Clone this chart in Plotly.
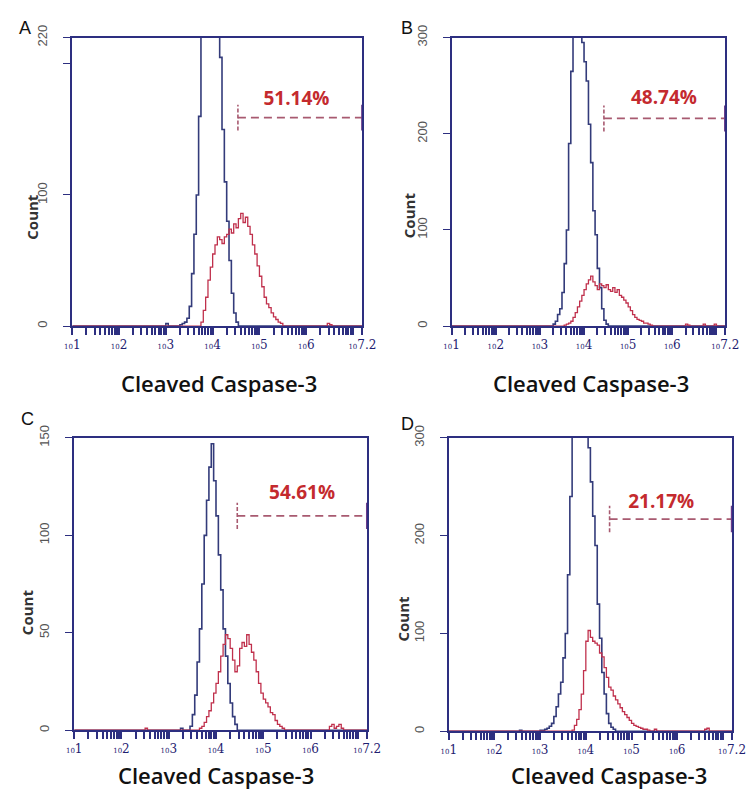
import numpy as np
import plotly.graph_objects as go

# ---------------- data (x in log10 units of fluorescence, y = count) ----------------
panels = ["A", "B", "C", "D"]
y_max = [220, 300, 150, 300]
y_tickvals = [[0, 100, 200, 220], [0, 100, 200, 300], [0, 50, 100, 150], [0, 100, 200, 300]]
y_ticktext = [["0", "100", "", "220"], ["0", "100", "200", "300"], ["0", "50", "100", "150"], ["0", "100", "200", "300"]]

x_tick_exp = ["1", "2", "3", "4", "5", "6", "7.2"]

gate_pct = ["51.14%", "48.74%", "54.61%", "21.17%"]
gate_start = [4.54, 4.45, 4.45, 4.52]
gate_end = [7.2, 7.2, 7.2, 7.2]
gate_y = [159, 216, 110, 217]
label_x = [5.79, 5.81, 5.82, 5.65]
label_y = [172, 236, 121, 233]

# Panel A
blue_x_A = [1.0, 2.95, 3.0, 3.05, 3.3, 3.35, 3.4, 3.45, 3.5, 3.55, 3.6, 3.65, 3.7, 3.75, 3.8, 3.85, 3.9,
            3.95, 4.0, 4.05, 4.1, 4.15, 4.2, 4.25, 4.3, 4.35, 4.4, 4.45, 4.5, 4.55, 7.2]
blue_y_A = [0, 0, 2, 0, 1, 2, 3, 6, 15, 40, 70, 100, 160, 230, 290, 330, 350,
            345, 320, 280, 240, 205, 150, 110, 80, 50, 25, 10, 3, 0, 0]
red_x_A = [1.0, 3.7, 3.75, 3.8, 3.85, 3.9, 3.95, 4.0, 4.05, 4.1, 4.15, 4.2, 4.25, 4.3, 4.35, 4.4, 4.45,
           4.5, 4.55, 4.6, 4.65, 4.7, 4.75, 4.8, 4.85, 4.9, 4.95, 5.0, 5.05, 5.1, 5.15, 5.2, 5.25,
           5.3, 5.35, 5.4, 5.45, 5.5, 6.4, 6.45, 6.5, 6.55, 7.2]
red_y_A = [0, 0, 3, 12, 22, 35, 45, 55, 62, 68, 66, 63, 68, 70, 74, 71, 78,
           75, 82, 86, 79, 83, 76, 70, 62, 55, 46, 38, 30, 22, 17, 14, 10,
           7, 5, 3, 2, 0, 0, 2, 1, 0, 0]

# Panel B
blue_x_B = [1.0, 3.2, 3.3, 3.35, 3.4, 3.45, 3.5, 3.55, 3.6, 3.65, 3.7, 3.75, 3.8, 3.85, 3.9, 3.95,
            4.0, 4.05, 4.1, 4.15, 4.2, 4.25, 4.3, 4.35, 4.4, 4.45, 4.5, 4.55, 7.2]
blue_y_B = [0, 0, 2, 5, 12, 18, 35, 65, 100, 190, 265, 330, 400, 430, 380, 295,
            275, 255, 210, 170, 120, 95, 60, 40, 18, 6, 2, 0, 0]
red_x_B = [1.0, 3.5, 3.55, 3.6, 3.65, 3.7, 3.75, 3.8, 3.85, 3.9, 3.95, 4.0, 4.05, 4.1, 4.15, 4.2,
           4.25, 4.3, 4.35, 4.4, 4.45, 4.5, 4.55, 4.6, 4.65, 4.7, 4.75, 4.8, 4.85, 4.9, 4.95, 5.0,
           5.05, 5.1, 5.15, 5.2, 5.25, 5.3, 5.35, 5.4, 5.45, 5.5, 5.55, 6.3, 6.35, 6.4, 6.7, 6.75,
           6.95, 7.0, 7.2]
red_y_B = [0, 0, 1, 2, 3, 5, 9, 14, 20, 26, 32, 38, 44, 48, 52, 46,
           42, 38, 44, 42, 40, 43, 38, 36, 40, 35, 38, 32, 30, 27, 24, 20,
           16, 12, 9, 7, 6, 5, 3, 3, 2, 1, 0, 2, 1, 0, 2, 0,
           2, 0, 0]

# Panel C
blue_x_C = [1.0, 3.2, 3.25, 3.3, 3.45, 3.5, 3.55, 3.6, 3.65, 3.7, 3.75, 3.8, 3.85, 3.9, 3.95, 4.0,
            4.05, 4.1, 4.15, 4.2, 4.25, 4.3, 4.35, 4.4, 4.45, 7.2]
blue_y_C = [0, 0, 1, 0, 2, 8, 18, 35, 52, 75, 100, 118, 135, 147, 128, 110,
            90, 72, 52, 38, 24, 14, 7, 3, 0, 0]
red_x_C = [1.0, 2.45, 2.5, 2.55, 3.6, 3.65, 3.7, 3.75, 3.8, 3.85, 3.9, 3.95, 4.0, 4.05, 4.1, 4.15,
           4.2, 4.25, 4.3, 4.35, 4.4, 4.45, 4.5, 4.55, 4.6, 4.65, 4.7, 4.75, 4.8, 4.85, 4.9, 4.95,
           5.0, 5.05, 5.1, 5.15, 5.2, 5.25, 5.3, 5.35, 5.4, 5.45, 6.35, 6.4, 6.45, 6.5, 6.55, 6.6,
           6.65, 6.7, 7.2]
red_y_C = [0, 0, 1, 0, 0, 1, 2, 4, 7, 10, 14, 19, 24, 30, 38, 44,
           49, 47, 42, 36, 30, 33, 42, 45, 43, 49, 44, 40, 36, 30, 24, 19,
           16, 14, 12, 9, 8, 5, 3, 2, 1, 0, 0, 2, 3, 1, 2, 3,
           1, 0, 0]

# Panel D
blue_x_D = [1.0, 2.5, 2.55, 2.6, 3.0, 3.1, 3.15, 3.2, 3.25, 3.3, 3.35, 3.4, 3.45, 3.5, 3.55, 3.6,
            3.65, 3.7, 3.75, 3.8, 3.85, 3.9, 3.95, 4.0, 4.05, 4.1, 4.15, 4.2, 4.25, 4.3, 4.35, 4.4,
            4.45, 4.5, 4.55, 4.6, 4.65, 7.2]
blue_y_D = [0, 0, 1, 0, 1, 2, 3, 5, 8, 15, 25, 38, 50, 75, 100, 160,
            240, 310, 340, 380, 410, 400, 360, 320, 290, 255, 220, 190, 130, 95, 60, 38,
            18, 8, 4, 2, 0, 0]
red_x_D = [1.0, 3.65, 3.7, 3.75, 3.8, 3.85, 3.9, 3.95, 4.0, 4.05, 4.1, 4.15, 4.2, 4.25, 4.3, 4.35,
           4.4, 4.45, 4.5, 4.55, 4.6, 4.65, 4.7, 4.75, 4.8, 4.85, 4.9, 4.95, 5.0, 5.05, 5.1, 5.15,
           5.2, 5.25, 5.3, 5.35, 5.4, 5.5, 5.55, 6.6, 6.65, 6.7, 7.2]
red_y_D = [0, 0, 1, 6, 12, 22, 38, 62, 92, 103, 96, 92, 90, 88, 80, 76,
           65, 55, 45, 42, 36, 32, 28, 24, 20, 17, 14, 11, 8, 6, 5, 4,
           3, 2, 2, 1, 0, 2, 0, 2, 3, 0, 0]

blue_x = [blue_x_A, blue_x_B, blue_x_C, blue_x_D]
blue_y = [blue_y_A, blue_y_B, blue_y_C, blue_y_D]
red_x = [red_x_A, red_x_B, red_x_C, red_x_D]
red_y = [red_y_A, red_y_B, red_y_C, red_y_D]

# ---------------- layout ----------------
# page body has an 8px margin; figure is sized so the page fits the 756x803 window
OFF = 8
W, H = 756 - 2 * OFF, 803 - 2 * OFF
# pixel boxes (window coordinates) of each plot area: left, right, top, bottom
boxes = [(66, 365, 25, 319), (457, 739, 25, 319), (68, 370, 433, 731), (454, 746, 433, 732)]
letter_pos = [(17, 15), (411, 15), (20, 414), (411, 419)]
count_pos = [(25, 207), (413, 206), (19, 611), (407, 617)]
title_pos = [(217, 377, "middle"), (601, 377, "middle"), (214, 794, "bottom"), (619, 794, "bottom")]


def px(x):
    return (x - OFF) / W


def py(y):
    return 1 - (y - OFF) / H


NAVY = "#2d2f80"
BLUE_LINE = "#333b7a"
RED_LINE = "#c0304c"
GATE = "#a85a70"
RED_TXT = "#c42a2e"

fig = go.Figure()

# x ticks: decades + minor positions + right end
tickvals_x, ticktext_x = [], []
for k in range(1, 7):
    for m in range(1, 10):
        tickvals_x.append(m * 10 ** k)
        ticktext_x.append(f"<span style='font-size:7px'>10</span>{x_tick_exp[k - 1]}" if m == 1 else "")
tickvals_x += [1e7, 10 ** 7.2]
ticktext_x += ["", f"<span style='font-size:7px'>10</span>{x_tick_exp[6]}"]

annotations = []
for i, p in enumerate(panels):
    xa = "x" if i == 0 else f"x{i+1}"
    ya = "y" if i == 0 else f"y{i+1}"
    x0, x1, t, b = boxes[i]
    lay_x = "xaxis" if i == 0 else f"xaxis{i+1}"
    lay_y = "yaxis" if i == 0 else f"yaxis{i+1}"

    fig.add_trace(go.Scatter(x=10 ** np.array(blue_x[i]), y=blue_y[i], mode="lines",
                             line=dict(color=BLUE_LINE, width=1.6, shape="hv"),
                             xaxis=xa, yaxis=ya, showlegend=False, hoverinfo="skip"))
    fig.add_trace(go.Scatter(x=10 ** np.array(red_x[i]), y=red_y[i], mode="lines",
                             line=dict(color=RED_LINE, width=1.3, shape="hv"),
                             xaxis=xa, yaxis=ya, showlegend=False, hoverinfo="skip"))
    # gate
    gs, ge, gy = gate_start[i], gate_end[i], gate_y[i]
    dy = 0.045 * y_max[i]
    fig.add_trace(go.Scatter(x=10 ** np.array([gs, ge]), y=[gy, gy], mode="lines",
                             line=dict(color=GATE, width=1.7, dash="8px,5px"),
                             xaxis=xa, yaxis=ya, showlegend=False, hoverinfo="skip"))
    fig.add_trace(go.Scatter(x=10 ** np.array([gs, gs]), y=[gy - dy, gy + dy], mode="lines",
                             line=dict(color=GATE, width=1.6, dash="4px,2px"),
                             xaxis=xa, yaxis=ya, showlegend=False, hoverinfo="skip"))
    fig.add_trace(go.Scatter(x=10 ** np.array([ge, ge]), y=[gy - dy, gy + dy], mode="lines",
                             line=dict(color="#6a3a8a", width=2.5),
                             xaxis=xa, yaxis=ya, showlegend=False, hoverinfo="skip"))
    fig.add_trace(go.Scatter(x=[10 ** label_x[i]], y=[label_y[i]], mode="text",
                             text=[gate_pct[i]],
                             textfont=dict(family="Open Sans", size=19, color=RED_TXT, weight="bold"),
                             xaxis=xa, yaxis=ya, showlegend=False, hoverinfo="skip"))

    fig.update_layout(**{
        lay_x: dict(type="log", range=[1, 7.2], domain=[px(x0), px(x1)], anchor=ya,
                    showgrid=False, zeroline=False, showline=True, mirror=True,
                    linecolor=NAVY, linewidth=1.6, ticks="outside", ticklen=7,
                    tickcolor=NAVY, tickwidth=1.5, tickvals=tickvals_x, ticktext=ticktext_x,
                    tickangle=0,
                    tickfont=dict(family="DejaVu Serif", size=12, color="#1e2070")),
        lay_y: dict(range=[0, y_max[i]], domain=[py(b), py(t)], anchor=xa,
                    showgrid=False, zeroline=False, showline=True, mirror=True,
                    linecolor=NAVY, linewidth=1.6, ticks="outside", ticklen=7,
                    tickcolor=NAVY, tickwidth=1.4, tickvals=y_tickvals[i], ticktext=y_ticktext[i],
                    tickangle=-90, ticklabelstandoff=11,
                    tickfont=dict(family="Liberation Sans Narrow, Liberation Sans", size=13, color="#555555")),
    })

    lx, ly = letter_pos[i]
    annotations.append(dict(text=p, x=px(lx), y=py(ly), xref="paper", yref="paper",
                            showarrow=False, xanchor="center", yanchor="middle",
                            font=dict(family="Liberation Sans", size=18, color="#111111")))
    cx, cy = count_pos[i]
    annotations.append(dict(text="Count", x=px(cx), y=py(cy), xref="paper", yref="paper",
                            showarrow=False, textangle=-90, xanchor="center", yanchor="middle",
                            font=dict(family="Open Sans", size=15, color="#333333", weight="bold")))
    tx, ty, tanchor = title_pos[i]
    annotations.append(dict(text="Cleaved Caspase-3", x=px(tx), y=py(ty), xref="paper", yref="paper",
                            showarrow=False, xanchor="center", yanchor=tanchor,
                            font=dict(family="Open Sans", size=22, color="#111111", weight=600)))

fig.update_layout(width=W, height=H, margin=dict(l=0, r=0, t=0, b=0),
                  paper_bgcolor="white", plot_bgcolor="white", annotations=annotations)

fig.write_html("out.html")
